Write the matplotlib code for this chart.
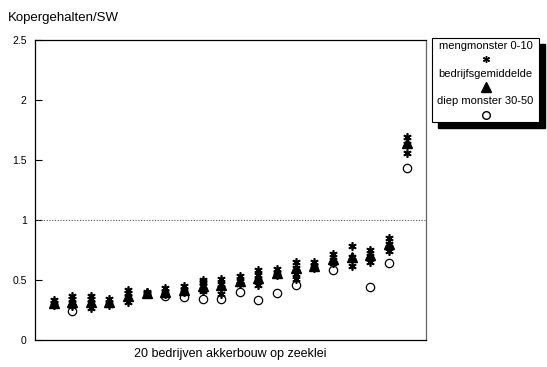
import numpy
import matplotlib
matplotlib.use('Agg')
import matplotlib.pyplot as plt
from matplotlib.patches import Rectangle

plt.rcParams['font.family'] = ['Liberation Sans', 'DejaVu Sans']

nan = numpy.nan

# 20 farms
farms = numpy.arange(1, 21)

# bedrijfsgemiddelde (farm average)
gemiddelde = [0.31, 0.32, 0.32, 0.315, 0.37, 0.39, 0.40, 0.42, 0.45, 0.46,
              0.49, 0.52, 0.56, 0.60, 0.62, 0.675, 0.69, 0.71, 0.80, 1.64]

# diep monster 30-50 (not visible for every farm)
diep = [nan, 0.24, nan, nan, nan, nan, 0.37, 0.36, 0.34, 0.34,
        0.40, 0.33, 0.39, 0.46, nan, 0.58, nan, 0.44, 0.64, 1.43]

# mengmonster 0-10, several samples per farm
meng = [
    [0.29, 0.31, 0.33],
    [0.28, 0.31, 0.34, 0.37],
    [0.27, 0.31, 0.34, 0.37],
    [0.29, 0.31, 0.34],
    [0.32, 0.36, 0.39, 0.42],
    [0.38, 0.39, 0.40],
    [0.38, 0.40, 0.43],
    [0.40, 0.42, 0.45],
    [0.41, 0.45, 0.48, 0.50],
    [0.38, 0.43, 0.47, 0.51],
    [0.47, 0.49, 0.53],
    [0.46, 0.50, 0.54, 0.58],
    [0.54, 0.56, 0.59],
    [0.51, 0.55, 0.60, 0.65],
    [0.60, 0.62, 0.65],
    [0.64, 0.67, 0.72],
    [0.62, 0.69, 0.78],
    [0.65, 0.70, 0.75],
    [0.74, 0.80, 0.85],
    [1.56, 1.63, 1.69],
]

star = (6, 2, 0)

fig = plt.figure(figsize=(5.47, 3.67), dpi=100)
ax = fig.add_axes([35/547, 27/367, 391/547, 300/367])

ax.plot(farms, diep, 'o', markersize=6, markerfacecolor='white',
        markeredgecolor='black', markeredgewidth=0.9, linestyle='none')
for f, vals in zip(farms, meng):
    ax.plot([f]*len(vals), vals, marker=star, markersize=6, color='black',
            markeredgewidth=1.2, linestyle='none')
ax.plot(farms, gemiddelde, '^', markersize=7.5, color='black', linestyle='none')

ax.axhline(1.0, color='#555555', linestyle=(0, (1, 1.5)), linewidth=0.8)

ax.set_xlim(0, 21)
ax.set_ylim(0, 2.5)
ax.set_xticks([])
ax.set_yticks([0, 0.5, 1, 1.5, 2, 2.5])
ax.set_yticklabels(['0', '0.5', '1', '1.5', '2', '2.5'])
ax.tick_params(axis='y', direction='in', length=5, width=0.8, labelsize=7.5, pad=6)
for s in ax.spines.values():
    s.set_linewidth(0.9)
ax.spines['right'].set_color('#666666')

ax.set_xlabel('20 bedrijven akkerbouw op zeeklei', fontsize=9, labelpad=6)
fig.text(8/547, 1 - 18/367, 'Kopergehalten/SW', fontsize=9.5, va='center', ha='left')

# legend box with shadow
lx0, ly0, lw, lh = 432/547, 1 - 122/367, 107/547, 84/367
fig.patches.append(Rectangle((lx0 + 6/547, ly0 - 6/367), lw, lh, transform=fig.transFigure,
                             facecolor='black', edgecolor='black', zorder=1))
fig.patches.append(Rectangle((lx0, ly0), lw, lh, transform=fig.transFigure,
                             facecolor='white', edgecolor='black', linewidth=0.8, zorder=2))
cx = lx0 + lw / 2
entries = [('mengmonster 0-10', 46, 59, dict(marker=star, markersize=5, color='black')),
           ('bedrijfsgemiddelde', 74, 87, dict(marker='^', markersize=6.5, color='black')),
           ('diep monster 30-50', 101, 115, dict(marker='o', markersize=5.5, markerfacecolor='white',
                                                 markeredgecolor='black'))]
for label, ty, my, style in entries:
    fig.text(cx, 1 - ty/367, label, fontsize=8, ha='center', va='center', zorder=3)
    fig.lines.append(plt.Line2D([cx], [1 - my/367], transform=fig.transFigure,
                                linestyle='none', zorder=3, **style))

fig.savefig('out.png', dpi=100)
